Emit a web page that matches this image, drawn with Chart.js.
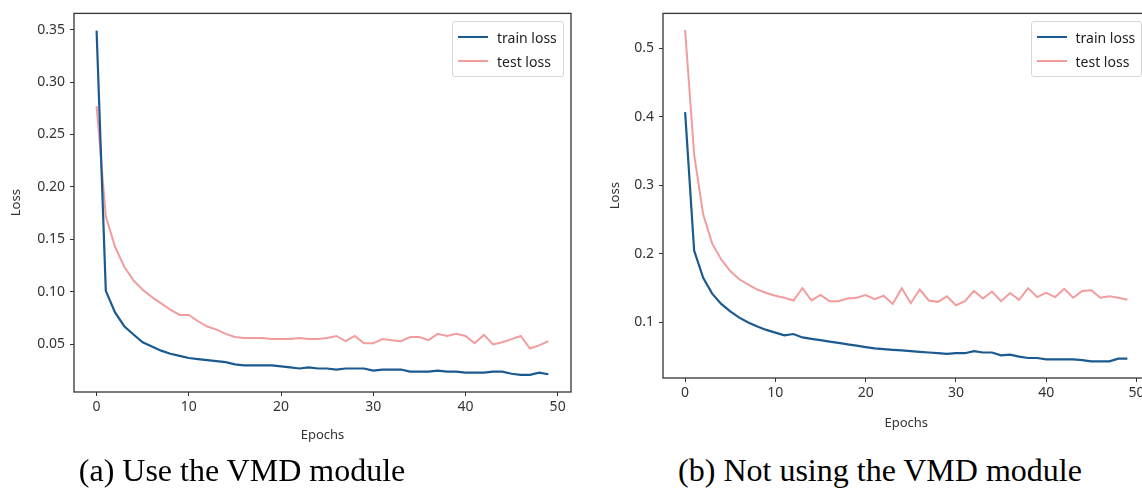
<!DOCTYPE html>
<html>
<head>
<meta charset="utf-8">
<script src="https://cdn.jsdelivr.net/npm/chart.js@4.4.1/dist/chart.umd.min.js"></script>
<style>
  html, body { margin: 0; padding: 0; background: #fff; }
  body { width: 1142px; height: 495px; overflow: hidden; position: relative; }
  .panel { position: absolute; top: 0; }
  .panel canvas { position: absolute; left: 0; top: 0; }
  .legend {
    position: absolute; background: rgba(255,255,255,0.85);
    border: 1px solid #d6d6d6; border-radius: 3px;
    padding: 3px 6px 3px 5px; font: 14px "Noto Sans", sans-serif; color: #222;
  }
  .legend .row { display: flex; align-items: center; height: 24px; }
  .legend .swatch { width: 30px; height: 2px; margin-right: 9px; }
  .caption {
    position: absolute; top: 452px; font: 32px "Liberation Serif", "Times New Roman", serif;
    color: #000; white-space: nowrap; transform: translateX(-50%);
  }
</style>
</head>
<body>
<div class="panel" id="panelA" style="left:0; width:580px; height:460px;"><canvas id="chartA" width="580" height="460"></canvas></div>
<div class="panel" id="panelB" style="left:590px; width:572px; height:450px;"><canvas id="chartB" width="572" height="450"></canvas></div>
<div class="caption" style="left:242px;">(a) Use the VMD module</div>
<div class="caption" style="left:880px;">(b) Not using the VMD module</div>

<script>
// epochs 0..49
const epochs = Array.from({ length: 50 }, (_, i) => i);
const xTicks = [0, 10, 20, 30, 40, 50];

// (a) avec module VMD
const trainLossA = [0.349, 0.101, 0.0805, 0.0673, 0.0594, 0.052, 0.048, 0.044, 0.041, 0.039,
  0.037, 0.036, 0.035, 0.034, 0.033, 0.031, 0.030, 0.030, 0.030, 0.030,
  0.029, 0.028, 0.027, 0.028, 0.027, 0.027, 0.026, 0.027, 0.027, 0.027,
  0.025, 0.026, 0.026, 0.026, 0.024, 0.024, 0.024, 0.025, 0.024, 0.024,
  0.023, 0.023, 0.023, 0.024, 0.024, 0.022, 0.021, 0.021, 0.023, 0.0215];
const testLossA = [0.277, 0.172, 0.143, 0.124, 0.111, 0.102, 0.095, 0.089, 0.083, 0.078,
  0.078, 0.072, 0.067, 0.064, 0.060, 0.057, 0.056, 0.056, 0.056, 0.055,
  0.055, 0.055, 0.056, 0.055, 0.055, 0.056, 0.058, 0.053, 0.058, 0.051,
  0.051, 0.055, 0.054, 0.053, 0.057, 0.057, 0.054, 0.060, 0.058, 0.060,
  0.058, 0.051, 0.059, 0.050, 0.052, 0.055, 0.058, 0.046, 0.049, 0.053];
const yTicksA = [0.05, 0.10, 0.15, 0.20, 0.25, 0.30, 0.35];

// (b) sans module VMD
const trainLossB = [0.407, 0.205, 0.165, 0.142, 0.127, 0.116, 0.107, 0.100, 0.094, 0.089,
  0.085, 0.081, 0.083, 0.078, 0.076, 0.074, 0.072, 0.070, 0.068, 0.066,
  0.064, 0.062, 0.061, 0.060, 0.059, 0.058, 0.057, 0.056, 0.055, 0.054,
  0.055, 0.055, 0.058, 0.056, 0.056, 0.052, 0.053, 0.050, 0.048, 0.048,
  0.046, 0.046, 0.046, 0.046, 0.045, 0.043, 0.043, 0.043, 0.047, 0.047];
const testLossB = [0.527, 0.345, 0.258, 0.215, 0.192, 0.175, 0.163, 0.155, 0.148, 0.143,
  0.139, 0.136, 0.132, 0.150, 0.132, 0.140, 0.131, 0.131, 0.135, 0.136,
  0.140, 0.134, 0.139, 0.127, 0.150, 0.128, 0.148, 0.132, 0.130, 0.138,
  0.125, 0.131, 0.146, 0.135, 0.145, 0.131, 0.143, 0.133, 0.150, 0.137,
  0.143, 0.137, 0.149, 0.136, 0.146, 0.147, 0.136, 0.138, 0.136, 0.133];
const yTicksB = [0.1, 0.2, 0.3, 0.4, 0.5];

const seriesLabels = ['train loss', 'test loss'];
const seriesColors = ['#1b5a8f', '#f29d9d'];
const seriesWidths = [2.2, 2];

const tickFont = { family: '"Noto Sans", sans-serif', size: 14 };
const titleFont = { family: '"Noto Sans", sans-serif', size: 13 };
const inkColor = '#333';

// cadre complet autour de la zone de tracé (style matplotlib)
const framePlugin = {
  id: 'frame',
  afterDraw(chart) {
    const { ctx, chartArea: a } = chart;
    ctx.save();
    ctx.strokeStyle = inkColor;
    ctx.lineWidth = 1.3;
    ctx.strokeRect(a.left, a.top, a.right - a.left, a.bottom - a.top);
    ctx.restore();
  }
};

function makeChart(canvasId, train, test, yTicks, decimals, box) {
  const all = train.concat(test);
  const lo = Math.min(...all), hi = Math.max(...all);
  const margin = (hi - lo) * 0.05;

  const toPoints = (vals) => vals.map((v, i) => ({ x: epochs[i], y: v }));

  return new Chart(document.getElementById(canvasId), {
    type: 'line',
    data: {
      datasets: [train, test].map((vals, k) => ({
        label: seriesLabels[k],
        data: toPoints(vals),
        borderColor: seriesColors[k],
        borderWidth: seriesWidths[k],
        pointRadius: 0,
        tension: 0
      }))
    },
    options: {
      responsive: false,
      animation: false,
      layout: { padding: { top: box.top, right: box.right, left: 0, bottom: 0 } },
      plugins: { legend: { display: false }, tooltip: { enabled: false } },
      scales: {
        x: {
          type: 'linear',
          min: -2.45, max: 51.45,
          afterBuildTicks: (s) => { s.ticks = xTicks.map(v => ({ value: v })); },
          afterFit: (s) => { s.height = box.xHeight; },
          ticks: { font: tickFont, color: inkColor, padding: 3 },
          grid: { drawOnChartArea: false, drawTicks: true, tickLength: 4, color: inkColor },
          border: { display: false },
          title: { display: true, text: 'Epochs', font: titleFont, color: inkColor,
                   padding: { top: 0, bottom: box.xTitlePad } }
        },
        y: {
          min: lo - margin, max: hi + margin,
          afterBuildTicks: (s) => { s.ticks = yTicks.map(v => ({ value: v })); },
          afterFit: (s) => { s.width = box.yWidth; },
          ticks: { font: tickFont, color: inkColor, padding: 5,
                   callback: (v) => Number(v).toFixed(decimals) },
          grid: { drawOnChartArea: false, drawTicks: true, tickLength: 4, color: inkColor },
          border: { display: false },
          title: { display: true, text: 'Loss', font: titleFont, color: inkColor,
                   padding: { top: box.yTitlePad, bottom: 0 } }
        }
      }
    },
    plugins: [framePlugin]
  });
}

// légende façon matplotlib, construite depuis les datasets
function addLegend(chart, panelId) {
  const panel = document.getElementById(panelId);
  const legend = document.createElement('div');
  legend.className = 'legend';
  chart.data.datasets.forEach(ds => {
    const row = document.createElement('div');
    row.className = 'row';
    const sw = document.createElement('span');
    sw.className = 'swatch';
    sw.style.background = ds.borderColor;
    const txt = document.createElement('span');
    txt.textContent = ds.label;
    row.appendChild(sw);
    row.appendChild(txt);
    legend.appendChild(row);
  });
  panel.appendChild(legend);
  const a = chart.chartArea;
  legend.style.left = (a.right - 7 - legend.offsetWidth) + 'px';
  legend.style.top = (a.top + 8) + 'px';
}

const chartA = makeChart('chartA', trainLossA, testLossA, yTicksA, 2,
  { top: 7, right: 9, xHeight: 68, yWidth: 74, xTitlePad: 17, yTitlePad: 8 });
const chartB = makeChart('chartB', trainLossB, testLossB, yTicksB, 1,
  { top: 10, right: 12.5, xHeight: 72, yWidth: 73, xTitlePad: 19, yTitlePad: 17 });

addLegend(chartA, 'panelA');
addLegend(chartB, 'panelB');
</script>
</body>
</html>
